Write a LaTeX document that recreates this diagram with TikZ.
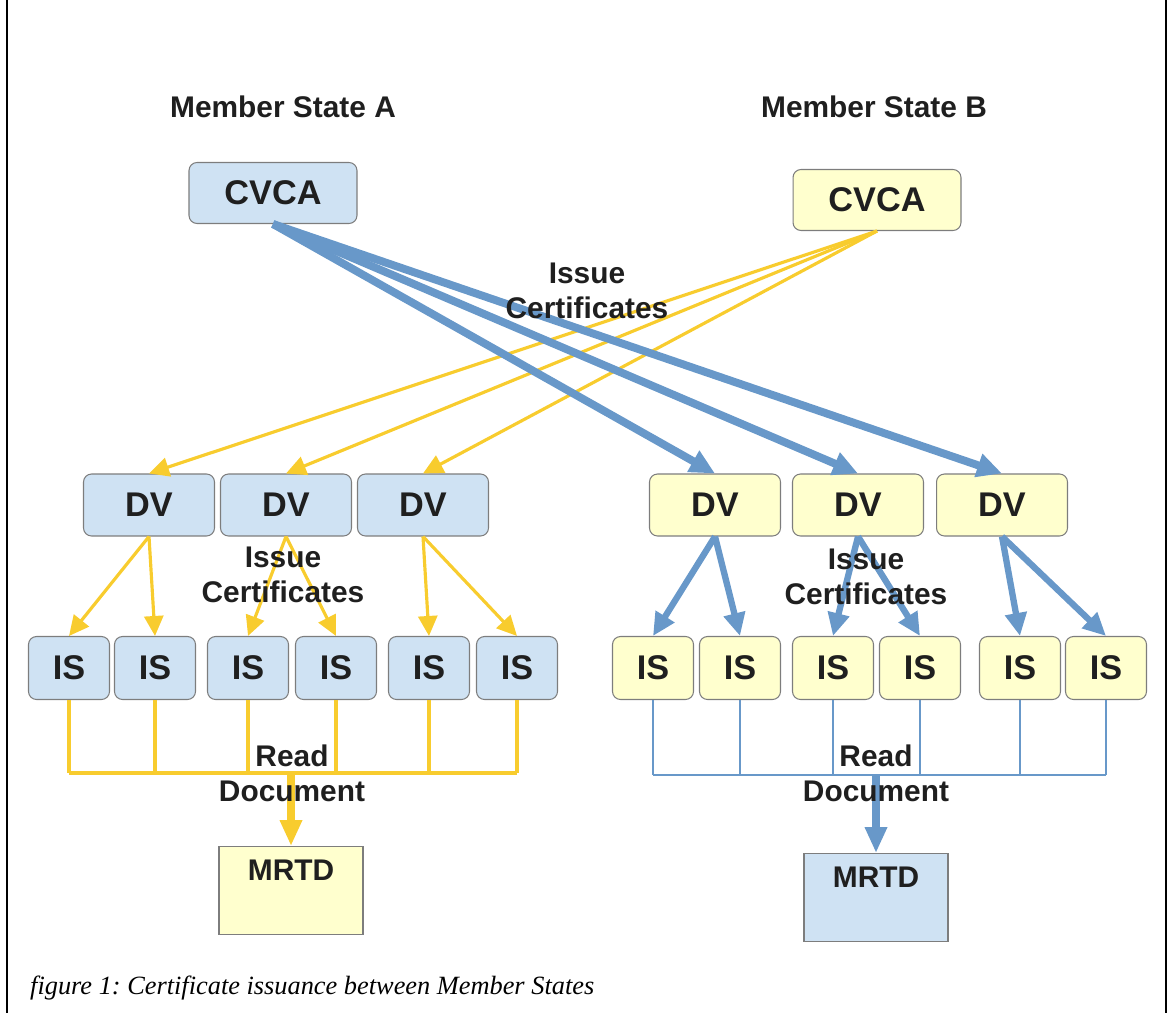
\documentclass[tikz,border=0pt]{standalone}
\usepackage{fontspec}
\setmainfont{Liberation Sans}
\newfontfamily\capfont{Liberation Serif}
\usetikzlibrary{arrows.meta}
\frenchspacing

\definecolor{boxblue}{RGB}{207,226,243}
\definecolor{boxyellow}{RGB}{255,255,206}
\definecolor{arrowblue}{RGB}{104,152,201}
\definecolor{arrowyellow}{RGB}{248,204,46}
\definecolor{boxline}{RGB}{125,125,125}

\begin{document}
\begin{tikzpicture}[x=0.02cm, y=-0.02cm,
  box/.style={draw=boxline, line width=0.6pt, rounded corners=0.16cm,
    font=\fontsize{19.5}{22}\selectfont\bfseries, text=black!88},
  cvca/.style={box, minimum width=3.36cm, minimum height=1.22cm},
  dv/.style={box, minimum width=2.62cm, minimum height=1.24cm},
  isbox/.style={box, minimum width=1.62cm, minimum height=1.26cm},
  mrtd/.style={draw=boxline, line width=0.6pt, anchor=north,
    minimum width=2.88cm, minimum height=1.76cm},
  lbl/.style={font=\fontsize{17}{20}\selectfont\bfseries, align=center, text=black!88},
  bluebig/.style={draw=arrowblue, line width=4.5pt, -{Triangle[length=0.5cm, width=0.46cm]}},
  bluemid/.style={draw=arrowblue, line width=3.6pt, -{Triangle[length=0.46cm, width=0.42cm]}},
  blueline/.style={draw=arrowblue, line width=1.4pt},
  yellowthin/.style={draw=arrowyellow, line width=1.8pt, -{Triangle[length=0.4cm, width=0.38cm]}},
  yellowline/.style={draw=arrowyellow, line width=1.8pt},
  readarrow/.style={line width=4pt, -{Triangle[length=0.52cm, width=0.42cm]}}
]
  \useasboundingbox (0,0) rectangle (1169,1013);

  % Frame
  \draw[line width=1.2pt] (7,0) -- (7,1013);
  \draw[line width=1.2pt] (1166,0) -- (1166,1013);

  % Headings
  \node[lbl] (msA) at (283,107) {Member State A};
  \node[lbl] (msB) at (874,107) {Member State B};

  % Root authorities
  \node[cvca, fill=boxblue] (cvcaA) at (273,193) {CVCA};
  \node[cvca, fill=boxyellow] (cvcaB) at (877,200) {CVCA};

  % Document verifiers
  \node[dv, fill=boxblue] (dvA1) at (149,505) {DV};
  \node[dv, fill=boxblue] (dvA2) at (286,505) {DV};
  \node[dv, fill=boxblue] (dvA3) at (423,505) {DV};
  \node[dv, fill=boxyellow] (dvB1) at (715,505) {DV};
  \node[dv, fill=boxyellow] (dvB2) at (858,505) {DV};
  \node[dv, fill=boxyellow] (dvB3) at (1002,505) {DV};

  % Inspection systems
  \node[isbox, fill=boxblue] (isA1) at (69,668) {IS};
  \node[isbox, fill=boxblue] (isA2) at (155,668) {IS};
  \node[isbox, fill=boxblue] (isA3) at (248,668) {IS};
  \node[isbox, fill=boxblue] (isA4) at (336,668) {IS};
  \node[isbox, fill=boxblue] (isA5) at (429,668) {IS};
  \node[isbox, fill=boxblue] (isA6) at (517,668) {IS};
  \node[isbox, fill=boxyellow] (isB1) at (653,668) {IS};
  \node[isbox, fill=boxyellow] (isB2) at (740,668) {IS};
  \node[isbox, fill=boxyellow] (isB3) at (833,668) {IS};
  \node[isbox, fill=boxyellow] (isB4) at (920,668) {IS};
  \node[isbox, fill=boxyellow] (isB5) at (1020,668) {IS};
  \node[isbox, fill=boxyellow] (isB6) at (1106,668) {IS};

  % Travel documents
  \node[mrtd, fill=boxyellow, label={[lbl, anchor=north, inner sep=8pt]north:MRTD}] (mrtdA) at (291,846) {};
  \node[mrtd, fill=boxblue, label={[lbl, anchor=north, inner sep=8pt]north:MRTD}] (mrtdB) at (876,853) {};

  % CVCA -> foreign DVs
  \draw[yellowthin] (cvcaB.south) -- (dvA1.north);
  \draw[yellowthin] (cvcaB.south) -- (dvA2.north);
  \draw[yellowthin] (cvcaB.south) -- (dvA3.north);
  \draw[bluebig] (cvcaA.south) -- (dvB1.north);
  \draw[bluebig] (cvcaA.south) -- (dvB2.north);
  \draw[bluebig] (cvcaA.south) -- (dvB3.north);

  % DV -> IS
  \draw[yellowthin] (dvA1.south) -- (isA1.north);
  \draw[yellowthin] (dvA1.south) -- (isA2.north);
  \draw[yellowthin] (dvA2.south) -- (isA3.north);
  \draw[yellowthin] (dvA2.south) -- (isA4.north);
  \draw[yellowthin] (dvA3.south) -- (isA5.north);
  \draw[yellowthin] (dvA3.south) -- (isA6.north);
  \draw[bluemid] (dvB1.south) -- (isB1.north);
  \draw[bluemid] (dvB1.south) -- (isB2.north);
  \draw[bluemid] (dvB2.south) -- (isB3.north);
  \draw[bluemid] (dvB2.south) -- (isB4.north);
  \draw[bluemid] (dvB3.south) -- (isB5.north);
  \draw[bluemid] (dvB3.south) -- (isB6.north);

  % IS -> MRTD
  \coordinate (busA) at (291,773);
  \coordinate (busB) at (876,775);
  \draw[yellowline] (isA1.south) -- (isA1.south |- busA);
  \draw[yellowline] (isA2.south) -- (isA2.south |- busA);
  \draw[yellowline] (isA3.south) -- (isA3.south |- busA);
  \draw[yellowline] (isA4.south) -- (isA4.south |- busA);
  \draw[yellowline] (isA5.south) -- (isA5.south |- busA);
  \draw[yellowline] (isA6.south) -- (isA6.south |- busA);
  \draw[yellowline] (isA1.south |- busA) -- (isA6.south |- busA);
  \draw[blueline] (isB1.south) -- (isB1.south |- busB);
  \draw[blueline] (isB2.south) -- (isB2.south |- busB);
  \draw[blueline] (isB3.south) -- (isB3.south |- busB);
  \draw[blueline] (isB4.south) -- (isB4.south |- busB);
  \draw[blueline] (isB5.south) -- (isB5.south |- busB);
  \draw[blueline] (isB6.south) -- (isB6.south |- busB);
  \draw[blueline] (isB1.south |- busB) -- (isB6.south |- busB);
  \draw[readarrow, arrowyellow] (busA) -- (mrtdA.north);
  \draw[readarrow, arrowblue] (busB) -- (mrtdB.north);

  % Edge labels
  \node[lbl] (issueTop) at (587,291) {Issue\\Certificates};
  \node[lbl] (issueA) at (283,575) {Issue\\Certificates};
  \node[lbl] (issueB) at (866,577) {Issue\\Certificates};
  \node[lbl] (readA) at (292,773) {Read\\Document};
  \node[lbl] (readB) at (876,773) {Read\\Document};

  % Caption
  \node[anchor=base west, font=\capfont\itshape\fontsize{15}{18}\selectfont] (caption) at (24,994)
    {figure 1: Certificate issuance between Member States};
\end{tikzpicture}
\end{document}
